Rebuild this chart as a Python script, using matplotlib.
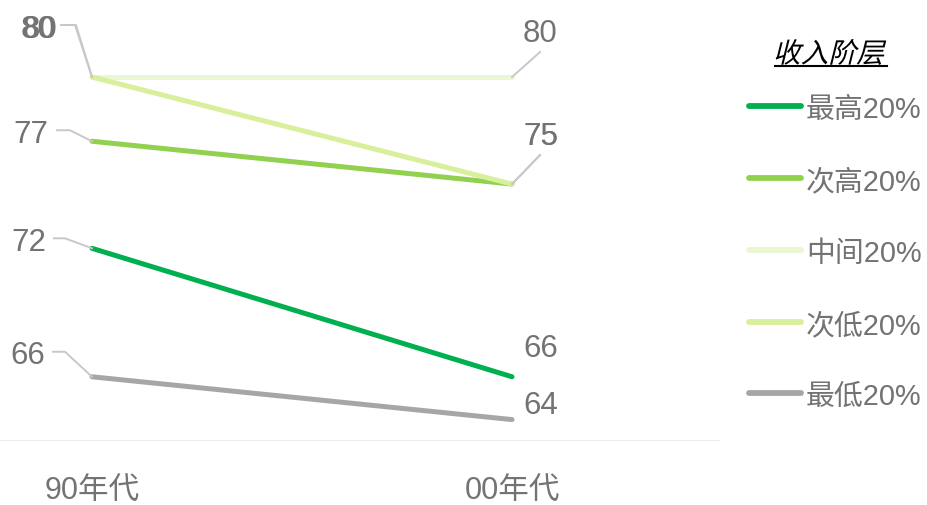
import matplotlib
matplotlib.use("Agg")
import matplotlib.pyplot as plt
from matplotlib.lines import Line2D
from matplotlib.patches import PathPatch
from matplotlib.textpath import TextPath
from matplotlib.font_manager import FontProperties
from matplotlib.transforms import Affine2D, IdentityTransform

plt.rcParams["font.family"] = ["Liberation Sans", "Noto Sans CJK SC", "DejaVu Sans"]

# %% data
periods = ["90年代", "00年代"]
series_names = ["最高20%", "次高20%", "中间20%", "次低20%", "最低20%"]
top20 = [72, 66]
second20 = [77, 75]
middle20 = [80, 80]
fourth20 = [80, 75]
bottom20 = [66, 64]
legend_title = "收入阶层"

series_values = [top20, second20, middle20, fourth20, bottom20]

# %% styles
colors = ["#00b050", "#92d050", "#ebf6d2", "#d8ef9c", "#a6a6a6"]
text_color = "#737373"
leader_color = "#c8c8c8"

# label offsets in pixels (dx, dy up), plus leader elbows, per series and side
left_style = [
    {"text": (-46, 10), "leader": [(0, 0), (-27, 10), (-38, 10)]},
    {"text": (-44, 11), "leader": [(0, 0), (-22, 11), (-35, 11)]},
    {"text": (-37, 52), "leader": [(0, 0), (-17, 52), (-31, 52)]},
    {"text": (-35, 52), "leader": [(0, 0), (-16, 52), (-30, 52)]},
    {"text": (-47, 25), "leader": [(0, 0), (-27, 25), (-39, 25)]},
]
right_style = [
    {"text": (11, 32), "leader": None},
    {"text": (11, 52), "leader": [(0, 0), (28, 29)]},
    {"text": (11, 48), "leader": [(0, 0), (28, 25)]},
    {"text": (11, 52), "leader": [(0, 0), (28, 29)]},
    {"text": (11, 18), "leader": None},
]

W, H, DPI = 928, 506, 100
fig = plt.figure(figsize=(W / DPI, H / DPI), dpi=DPI)
ax = fig.add_axes([0, (H - 442) / H, 720 / W, 442 / H])
ax.set_xlim(-92 / 420, 628 / 420)
ax.set_ylim(63, 80 + 78 / 21.4)
ax.axis("off")

# baseline
ax.axhline(63, color="#e6e6e6", linewidth=1.8, zorder=0)

xs = list(range(len(periods)))
for i, vals in enumerate(series_values):
    ax.plot(xs, vals, color=colors[i], linewidth=3.6, solid_capstyle="round", zorder=3 + i)

fig.canvas.draw()


def add_label(x, v, style):
    px, py = ax.transData.transform((x, v))
    if style["leader"]:
        lx = [px + dx for dx, dy in style["leader"]]
        ly = [py + dy for dx, dy in style["leader"]]
        fig.add_artist(Line2D(lx, ly, transform=IdentityTransform(),
                              color=leader_color, linewidth=1.4, zorder=2))
    dx, dy = style["text"]
    fig.text(px + dx, py + dy, f"{v}", transform=IdentityTransform(),
             ha="right" if dx < 0 else "left", va="center_baseline",
             fontsize=22.5, color=text_color)


for i, vals in enumerate(series_values):
    add_label(0, vals[0], left_style[i])
    add_label(1, vals[1], right_style[i])

# category labels
for x, p in zip(xs, periods):
    px, _ = ax.transData.transform((x, 63))
    fig.text(px, H - 488, p, transform=IdentityTransform(), ha="center",
             va="center_baseline", fontsize=22, color=text_color)

# legend
legend_y = [107, 179, 251, 323, 394]
for i, name in enumerate(series_names):
    y = H - legend_y[i]
    fig.add_artist(Line2D([749, 801], [y, y], transform=IdentityTransform(),
                          color=colors[i], linewidth=4.2, solid_capstyle="round"))
    fig.text(806, y, name, transform=IdentityTransform(), ha="left",
             va="center_baseline", fontsize=20.8, color=text_color)

# legend title: italic look via skew, underlined
tp = TextPath((0, 0), legend_title, prop=FontProperties(family="Noto Sans CJK SC", size=20))
scale = DPI / 72
t = Affine2D().skew_deg(14, 0).scale(scale)
ext2 = t.transform_path(tp).get_extents()
cx, cy = 831, H - 53
t = t.translate(cx - (ext2.x0 + ext2.x1) / 2, cy - (ext2.y0 + ext2.y1) / 2)
fig.add_artist(PathPatch(tp, transform=t, facecolor="black", edgecolor="none"))
fig.add_artist(Line2D([775, 887], [H - 67, H - 67], transform=IdentityTransform(),
                      color="black", linewidth=1.5))

fig.savefig("out.png", dpi=DPI)
